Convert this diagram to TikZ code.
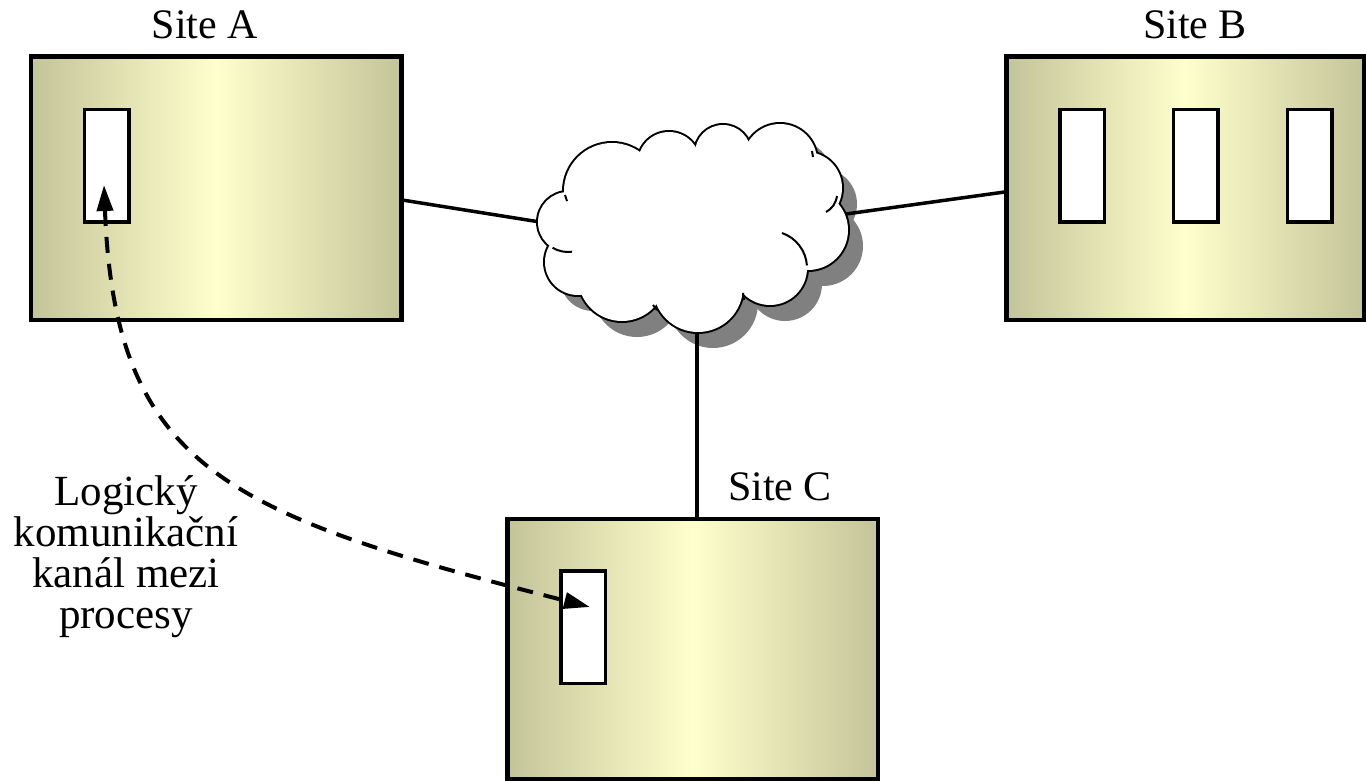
\documentclass[tikz,border=0pt]{standalone}
\usepackage{fontspec}
\setmainfont{Liberation Serif}
\usetikzlibrary{arrows.meta}
\definecolor{siteedge}{RGB}{196,196,154}
\definecolor{sitemid}{RGB}{255,255,204}
\definecolor{cloudshadow}{RGB}{128,128,128}
% puffs of the network cloud: centre x / centre y / radius
\def\puffs{612/191/48,669/163/31,723/153/28,780/161/37,806/188/36,808/230/40,770/268/37,698/287/45,622/277/44,578/262/33,568/222/30}
\begin{document}
\begin{tikzpicture}[x=0.5pt,y=-0.5pt,
  sitebox/.style={draw=black,line width=2.25pt,left color=siteedge,right color=siteedge,
    middle color=sitemid,minimum width=#1,minimum height=131.75pt,inner sep=0pt},
  procbox/.style={draw=black,fill=white,line width=1.75pt,minimum width=22.25pt,
    minimum height=56.25pt,inner sep=0pt},
  sitename/.style={font=\fontsize{21}{24}\selectfont,inner sep=0pt},
  note/.style={font=\fontsize{21.5}{20.5}\selectfont,inner sep=0pt,align=center},
  link/.style={line width=1.75pt},
  channel/.style={line width=2pt,dash pattern=on 8pt off 5.5pt,<->,
    >={Triangle[length=13pt,width=8pt]}},
  puffline/.style={line width=1pt}]
\useasboundingbox (0,0) rectangle (1366,781);
\fill[white] (0,0) rectangle (1366,781);

% sites
\node[sitebox=185.25pt] (siteA) at (216.25,188.25) {};
\node[sitebox=178.75pt] (siteB) at (1185.25,188.25) {};
\node[sitebox=185.25pt,minimum height=130.25pt] (siteC) at (692.75,649.25) {};

% processes
\node[procbox] (procA) at (106.75,165.75) {};
\node[procbox] (procB1) at (1082,165.75) {};
\node[procbox] (procB2) at (1195.5,165.75) {};
\node[procbox] (procB3) at (1309.5,165.75) {};
\node[procbox] (procC) at (583,627) {};

% site names
\node[sitename,anchor=base] (nameA) at (205,39) {Site A};
\node[sitename,anchor=base] (nameB) at (1195,39) {Site B};
\node[sitename,anchor=base] (nameC) at (780,500) {Site C};

% cloud shadow
\foreach \cx/\cy/\r in \puffs {\fill[cloudshadow] (\cx+15,\cy+16) circle[radius=\r];}
\fill[cloudshadow] (710,238) ellipse[x radius=115,y radius=65];

% links to the cloud
\coordinate (cloudW) at (540,222);
\coordinate (cloudE) at (846,214);
\coordinate (cloudS) at (697,330);
\draw[link] ([yshift=-6pt]siteA.east) -- (cloudW);
\draw[link] ([yshift=-1.9pt]siteB.west) -- (cloudE);
\draw[link] (cloudS) -- (cloudS |- siteC.north);

% cloud: outline of the puffs, then the white body
\foreach \cx/\cy/\r in \puffs {\draw[line width=2pt] (\cx,\cy) circle[radius=\r];}
\foreach \cx/\cy/\r in \puffs {\fill[white] (\cx,\cy) circle[radius=\r];}
\fill[white] (695,222) ellipse[x radius=115,y radius=65];
% inner strokes of the cloud
\draw[puffline] (770,268) ++(-71:37) arc[start angle=-71,end angle=-4,radius=37];
\draw[puffline] (568,222) ++(121:30) arc[start angle=121,end angle=82,radius=30];
\draw[puffline] (837,196) to[bend left=25] (826,212);
\draw[puffline] (565,195) -- (567,201);
\draw[puffline] (812,151) -- (813,157);
\draw[puffline] (743,293) -- (744,300);
\draw[puffline] (653,305) -- (657,310);

% logical channel between the processes
\coordinate (tipA) at (104,185);
\coordinate (tipC) at (590,607);
\draw[channel] (tipA) .. controls (115,470) and (230,515) .. (tipC);

\node[note,anchor=north] (chan) at (126,475) {Logický\\komunikační\\kanál mezi\\procesy};
\end{tikzpicture}
\end{document}
